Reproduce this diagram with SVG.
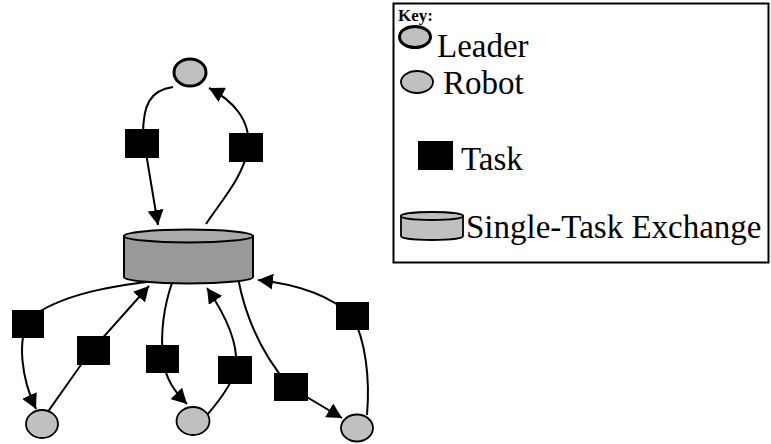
<svg xmlns="http://www.w3.org/2000/svg" width="771" height="444" viewBox="0 0 771 444">
  <style>
    .robot { fill: #c0c0c0; stroke: #000; stroke-width: 1.8; }
    .leader { fill: #c0c0c0; stroke: #000; stroke-width: 3; }
    .task { fill: #000; }
    .link { fill: none; stroke: #000; stroke-width: 2; }
    .arrow { marker-end: url(#head); }
    .keytext { font-family: "Liberation Serif", "Times New Roman", serif; font-size: 33px; fill: #000; }
    .keytitle { font-family: "Liberation Serif", "Times New Roman", serif; font-size: 17px; font-weight: bold; fill: #000; }
  </style>
  <defs>
    <marker id="head" markerUnits="userSpaceOnUse" markerWidth="16" markerHeight="16" refX="15" refY="8" orient="auto">
      <path d="M0,0 L15,8 L0,16 Z" fill="#000"/>
    </marker>
  </defs>

  <rect width="771" height="444" fill="#fff"/>

  <!-- connectors -->
  <g id="connectors">
    <path class="link arrow" d="M173,87 C150,90 143,105 143,135 L158,225"/>
    <path class="link arrow" d="M206,224 C222,200 242,178 248,150 C252,120 232,100 209,88"/>
    <path class="link arrow" d="M173,279 C110,285 60,295 30,318 C16,340 22,380 36,409"/>
    <path class="link arrow" d="M47,413 L90,352 L149,286"/>
    <path class="link arrow" d="M173,280 C164,305 160,330 163,360 C166,380 175,392 187,404"/>
    <path class="link arrow" d="M207,415 C220,400 235,380 236,365 C238,340 222,310 207,288"/>
    <path class="link arrow" d="M238,278 C244,310 258,350 290,387 L342,418"/>
    <path class="link arrow" d="M367,415 C370,380 366,340 352,316 C330,295 295,284 258,280"/>
  </g>

  <!-- exchange -->
  <g id="exchange">
    <path d="M124,236 L124,277 A64.5,6.5 0 0 0 253,277 L253,236 Z" fill="#999999" stroke="#000" stroke-width="2"/>
    <ellipse cx="188.5" cy="236" rx="64.5" ry="6.5" fill="#aaaaaa" stroke="#000" stroke-width="2"/>
  </g>

  <!-- leader -->
  <g id="leader">
    <ellipse class="leader" cx="190" cy="72.5" rx="16" ry="13.5"/>
  </g>

  <!-- robots -->
  <g id="robot1"><ellipse class="robot" cx="42" cy="424" rx="16" ry="14"/></g>
  <g id="robot2"><ellipse class="robot" cx="193" cy="421" rx="16.5" ry="14"/></g>
  <g id="robot3"><ellipse class="robot" cx="357" cy="428" rx="16" ry="13.5"/></g>

  <!-- tasks -->
  <g id="task-leader-out"><rect class="task" x="125" y="129" width="34" height="29"/></g>
  <g id="task-leader-in"><rect class="task" x="229" y="133" width="34" height="29"/></g>
  <g id="task1"><rect class="task" x="12" y="310" width="32" height="28"/></g>
  <g id="task2"><rect class="task" x="77" y="336" width="33" height="29"/></g>
  <g id="task3"><rect class="task" x="146" y="345" width="33" height="28"/></g>
  <g id="task4"><rect class="task" x="218" y="356" width="34" height="28"/></g>
  <g id="task5"><rect class="task" x="274" y="373" width="34" height="28"/></g>
  <g id="task6"><rect class="task" x="336" y="302" width="33" height="28"/></g>

  <!-- key -->
  <g id="key">
    <rect x="393.5" y="3.5" width="375" height="259" fill="#fff" stroke="#000" stroke-width="2"/>
    <text class="keytitle" x="398" y="21">Key:</text>
    <ellipse cx="415" cy="37" rx="15.5" ry="10.5" fill="#c0c0c0" stroke="#000" stroke-width="3"/>
    <text class="keytext" x="437" y="57">Leader</text>
    <ellipse cx="417" cy="82" rx="16" ry="11" fill="#c0c0c0" stroke="#000" stroke-width="1.8"/>
    <text class="keytext" x="443" y="94">Robot</text>
    <rect x="418" y="141" width="35" height="29" fill="#000"/>
    <text class="keytext" x="461" y="170">Task</text>
    <path d="M401,216 L401,236 A31,4 0 0 0 463,236 L463,216 Z" fill="#c0c0c0" stroke="#000" stroke-width="1.8"/>
    <ellipse cx="432" cy="216" rx="31" ry="4" fill="#c0c0c0" stroke="#000" stroke-width="1.8"/>
    <text class="keytext" x="466" y="238">Single-Task Exchange</text>
  </g>
</svg>
